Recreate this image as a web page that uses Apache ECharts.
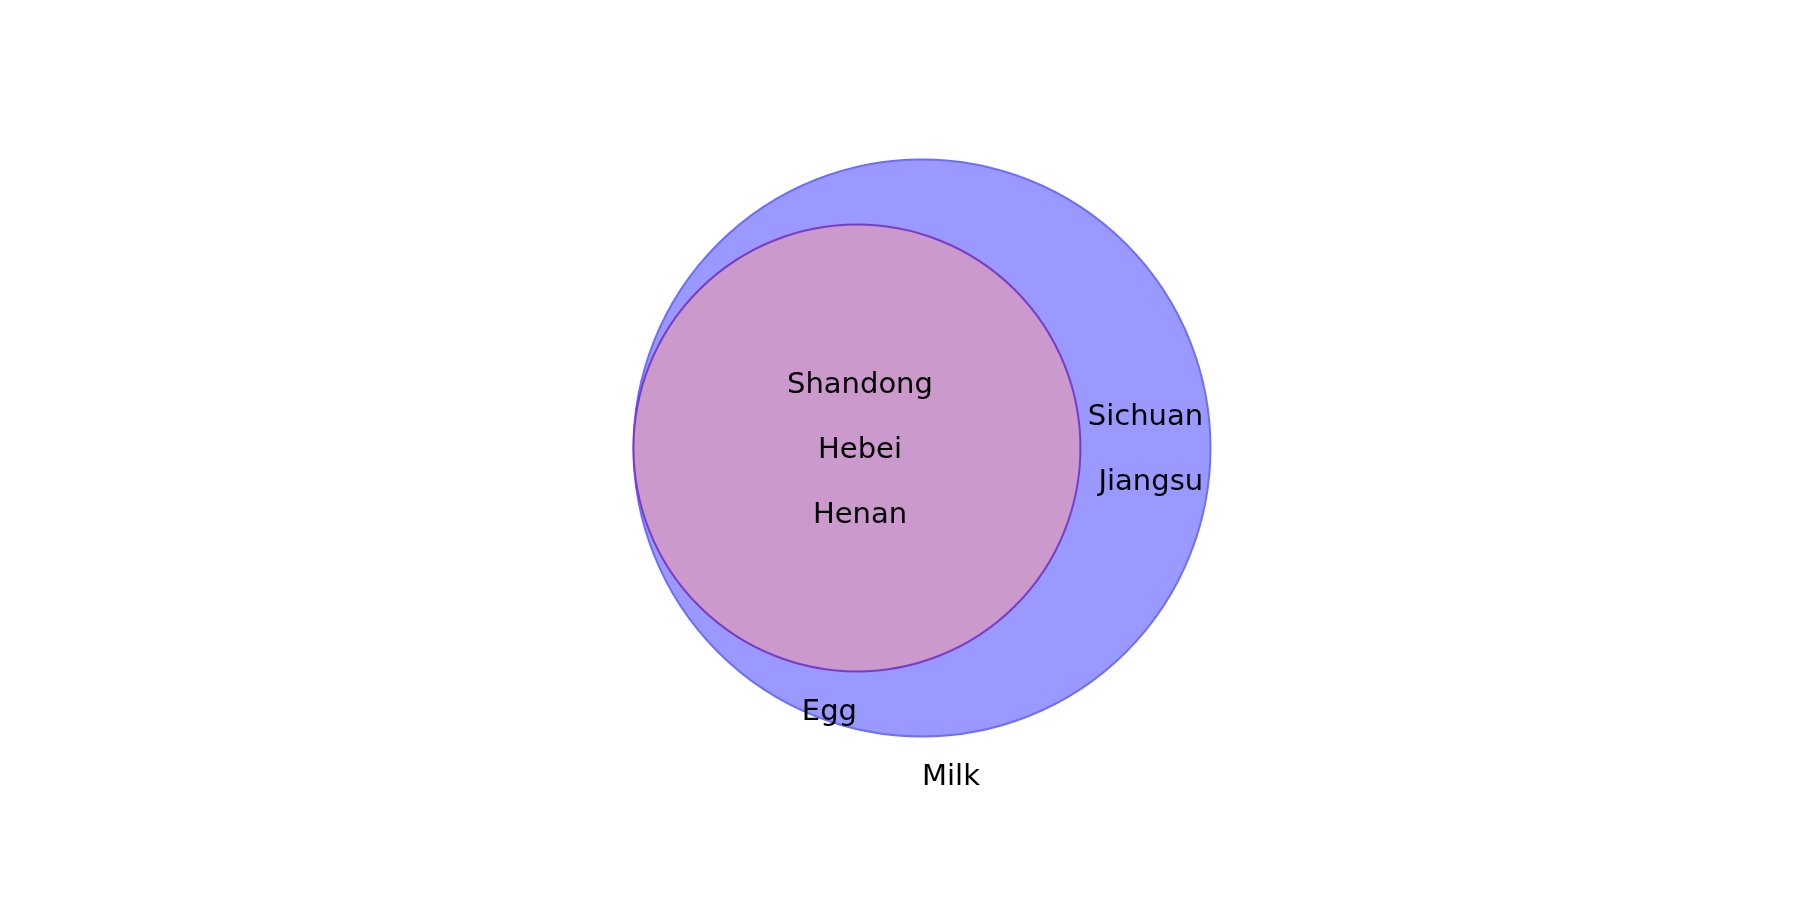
<!DOCTYPE html>
<html>
<head>
<meta charset="utf-8">
<title>Egg / Milk</title>
<script src="https://cdn.jsdelivr.net/npm/echarts@6/dist/echarts.min.js"></script>
<style>
  html, body { margin: 0; padding: 0; background: #fff; }
  #main { width: 1800px; height: 900px; }
</style>
</head>
<body>
<div id="main"></div>
<script>
// sets (Egg is fully inside Milk)
const setNames = ['Egg', 'Milk']
const eggItems = ['Shandong', 'Hebei', 'Henan']
const milkItems = ['Shandong', 'Hebei', 'Henan', 'Sichuan', 'Jiangsu']

const bothItems = milkItems.filter(d => eggItems.includes(d))
const milkOnly = milkItems.filter(d => !eggItems.includes(d))

// circle area follows set size
const rEgg = Math.sqrt(eggItems.length / Math.PI)
const rMilk = Math.sqrt(milkItems.length / Math.PI)
// subset circle touches the big one on the left
const eggCx = -(rMilk - rEgg)

const W = 1800, H = 900
const unit = 288.5 / rMilk   // px per data unit, same on both axes
const originX = 922, originY = 448

const FONT_SIZE = 29
const FONT_FAMILY = 'DejaVu Sans'
const LINE_H = 65
const TEXT_DY = 2

const ctx = document.createElement('canvas').getContext('2d')
ctx.font = FONT_SIZE + 'px "' + FONT_FAMILY + '"'
const blockWidth = lines => Math.max(...lines.map(l => ctx.measureText(l).width))

const circleStyle = {
  Milk: { fill: '#9999ff', stroke: '#6e6efa' },
  Egg: { fill: '#cb99cc', stroke: '#7a3cc8' }
}

// draw order: big circle first
const circles = [
  { name: 'Milk', value: [0, 0, rMilk] },
  { name: 'Egg', value: [eggCx, 0, rEgg] }
]

const regionLabels = [
  { lines: bothItems, value: [eggCx, 0], align: 'center' },
  { lines: milkOnly, value: [(eggCx + rEgg + rMilk) / 2, 0], align: 'right' }
]

const setLabels = [
  { text: setNames[0], value: [eggCx, -rEgg], align: 'right' },
  { text: setNames[1], value: [0, -rMilk], align: 'left' }
]

const textStyle = (text, align) => ({
  text: text,
  fill: '#000',
  fontSize: FONT_SIZE,
  fontFamily: FONT_FAMILY,
  align: align,
  verticalAlign: 'middle',
  lineHeight: LINE_H
})

const chart = echarts.init(document.getElementById('main'))

chart.setOption({
  animation: false,
  backgroundColor: '#fff',
  grid: { left: 0, right: 0, top: 0, bottom: 0 },
  xAxis: { type: 'value', show: false, min: -originX / unit, max: (W - originX) / unit },
  yAxis: { type: 'value', show: false, min: -(H - originY) / unit, max: originY / unit },
  series: [
    {
      type: 'custom',
      data: circles,
      renderItem: (params, api) => {
        const c = api.coord([api.value(0), api.value(1)])
        const r = api.size([api.value(2), 0])[0]
        const st = circleStyle[circles[params.dataIndex].name]
        return {
          type: 'circle',
          shape: { cx: c[0], cy: c[1], r: r },
          style: { fill: st.fill, stroke: st.stroke, lineWidth: 2 }
        }
      }
    },
    {
      type: 'custom',
      data: regionLabels.map(d => d.value),
      z: 5,
      renderItem: (params, api) => {
        const d = regionLabels[params.dataIndex]
        const c = api.coord([api.value(0), api.value(1)])
        let x = c[0]
        if (d.align === 'right') x += blockWidth(d.lines) / 2
        else x += 3
        return {
          type: 'text',
          x: x,
          y: c[1] + TEXT_DY,
          style: textStyle(d.lines.join('\n'), d.align)
        }
      }
    },
    {
      type: 'custom',
      data: setLabels.map(d => d.value),
      z: 5,
      renderItem: (params, api) => {
        const d = setLabels[params.dataIndex]
        const c = api.coord([api.value(0), api.value(1)])
        return {
          type: 'text',
          x: c[0],
          y: c[1] + 39 + TEXT_DY,
          style: textStyle(d.text, d.align)
        }
      }
    }
  ]
})
</script>
</body>
</html>
